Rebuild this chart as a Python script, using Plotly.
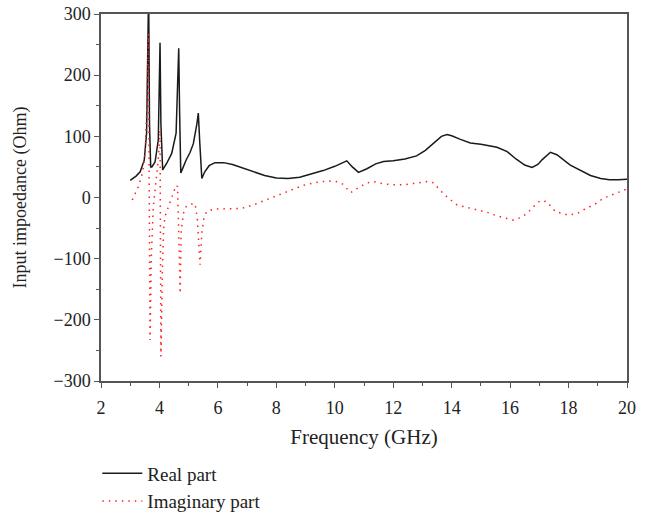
import plotly.graph_objects as go

# Real part (frequency GHz, Ohm)
real_f = [3.0, 3.2, 3.34, 3.48, 3.56, 3.6, 3.63, 3.66, 3.70, 3.74, 3.85, 3.96, 4.0, 4.02, 4.05,
          4.11, 4.25, 4.42, 4.57, 4.63, 4.66, 4.69, 4.73, 4.8, 4.91, 5.05, 5.16, 5.28, 5.33, 5.38,
          5.45, 5.55, 5.7, 5.9, 6.2, 6.5, 6.8, 7.2, 7.6, 8.0, 8.4, 8.8, 9.2, 9.6, 10.0, 10.25,
          10.41, 10.6, 10.81, 11.1, 11.4, 11.67, 12.0, 12.4, 12.8, 13.1, 13.4, 13.65, 13.84, 14.0,
          14.3, 14.64, 15.0, 15.55, 15.9, 16.2, 16.5, 16.75, 16.95, 17.1, 17.38, 17.6, 18.06, 18.4,
          18.75, 19.1, 19.4, 19.7, 20.0]
real_v = [28, 35, 42, 61, 105, 200, 340, 120, 50, 50, 58, 94, 180, 253, 120,
          45, 56, 72, 105, 180, 244, 140, 40, 48, 61, 74, 88, 120, 138, 90,
          31, 42, 52, 57, 57, 54, 49, 42, 36, 32, 31, 33, 38, 44, 51, 57,
          60, 50, 41, 47, 55, 59, 60, 63, 68, 77, 90, 100, 103, 101,
          95, 89, 87, 82, 75, 63, 53, 49, 54, 62, 74, 70, 53, 45,
          36, 31, 29, 29, 30]

# Imaginary part
imag_f = [3.07, 3.28, 3.42, 3.51, 3.57, 3.62, 3.68, 3.72, 3.79, 3.87, 3.96, 4.02, 4.05, 4.1,
          4.14, 4.19, 4.27, 4.36, 4.48, 4.57, 4.62, 4.66, 4.71, 4.74, 4.82, 4.91, 5.05, 5.22,
          5.30, 5.39, 5.45, 5.53, 5.62, 5.85, 6.42, 6.8, 7.22, 7.7, 8.13, 8.5, 8.93, 9.4, 9.79,
          10.05, 10.24, 10.4, 10.55, 10.8, 11.1, 11.33, 11.7, 12.01, 12.4, 12.7, 13.15, 13.38,
          13.6, 13.84, 14.18, 14.5, 14.87, 15.2, 15.55, 15.85, 16.12, 16.35, 16.58, 16.8, 17.03,
          17.26, 17.55, 18.0, 18.3, 18.52, 18.9, 19.2, 19.6, 19.89, 20.0]
imag_v = [-4, 18, 40, 72, 150, 268, -233, -100, -15, 18, 61, 110, -260, -120,
          -53, -31, -20, -10, 10, 20, 18, -60, -157, -58, -26, -15, -11, -10,
          -37, -110, -58, -31, -23, -19, -19, -18, -12, -3, 6, 13, 20, 25, 27,
          26, 23, 15, 8, 16, 24, 26, 22, 21, 21, 23, 26, 24,
          12, 1, -12, -16, -20, -24, -30, -34, -37, -33, -26, -15, -5,
          -7, -23, -29, -26, -20, -11, -1, 6, 12, 14]

font_family = "Liberation Serif"
txt = "#222222"

fig = go.Figure()
fig.add_trace(go.Scatter(x=real_f, y=real_v, mode="lines", name="Real part",
                         legendgroup="a",
                         line=dict(color="#1a1a1a", width=1.5)))
fig.add_trace(go.Scatter(x=imag_f, y=imag_v, mode="lines", name="Imaginary part",
                         legendgroup="b",
                         line=dict(color="#ff2020", width=1.5, dash="1.5px,5px")))

axis_common = dict(
    showline=True, linecolor="#555555", linewidth=1.5, mirror=True,
    ticks="outside", ticklen=5, tickwidth=1, tickcolor="#555555",
    showgrid=False, zeroline=False, automargin=False,
    ticklabeloverflow="allow",
    tickfont=dict(family=font_family, size=18, color=txt),
)

fig.update_xaxes(range=[2, 20], dtick=2, tick0=2,
                 minor=dict(dtick=1, ticks="outside", ticklen=3, tickcolor="#555555"),
                 ticklabelstandoff=5,
                 title=dict(text="Frequency (GHz)", font=dict(family=font_family, size=21, color=txt),
                            standoff=12),
                 **axis_common)
fig.update_yaxes(range=[-300, 300], dtick=100,
                 minor=dict(dtick=50, ticks="outside", ticklen=3, tickcolor="#555555"),
                 title=dict(text="Input impoedance (Ohm)", font=dict(family=font_family, size=18, color=txt),
                            standoff=22),
                 **axis_common)

fig.update_layout(
    width=661, height=518,
    margin=dict(l=101, r=34, t=14, b=137, autoexpand=False),
    paper_bgcolor="white", plot_bgcolor="white",
    font=dict(family=font_family, size=18, color=txt),
    showlegend=True,
    legend=dict(x=-0.007, y=-0.2, xanchor="left", yanchor="top",
                itemwidth=40,
                font=dict(family=font_family, size=19, color=txt),
                tracegroupgap=0, bgcolor="rgba(0,0,0,0)"),
)

fig.write_html("out.html", config={"displayModeBar": False},
               post_script="document.body.style.margin='0';")
